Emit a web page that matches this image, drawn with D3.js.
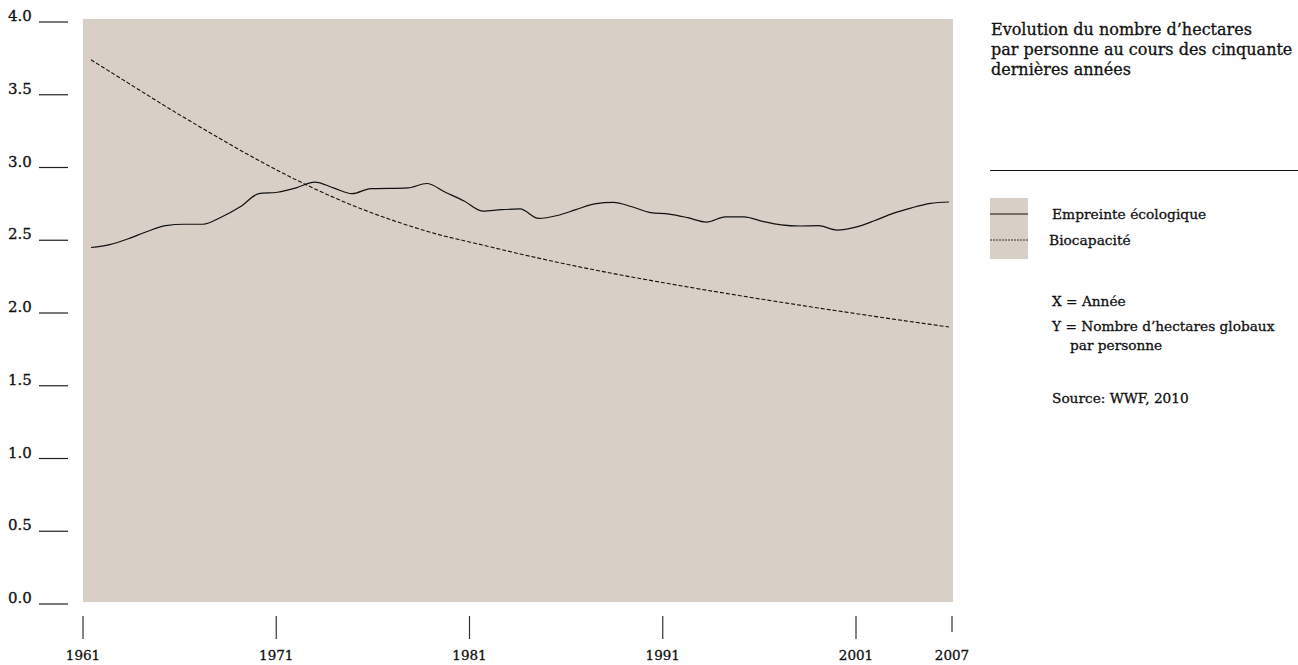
<!DOCTYPE html>
<html><head><meta charset="utf-8">
<script src="https://cdn.jsdelivr.net/npm/d3@7"></script>
<style>body{margin:0;background:#fff;} svg{display:block;} text{font-family:"DejaVu Serif",serif;fill:#111;stroke:#111;stroke-width:0.3px;}</style>
</head><body><svg id="c" width="1298" height="665"></svg>
<script>
const years = d3.range(1961, 2008);
const footprint = [2.45,2.47,2.51,2.56,2.60,2.61,2.61,2.66,2.73,2.82,2.83,2.86,2.90,2.86,2.82,2.855,2.856,2.86,2.89,2.83,2.77,2.70,2.71,2.715,2.65,2.67,2.71,2.75,2.76,2.73,2.69,2.68,2.655,2.625,2.66,2.66,2.63,2.606,2.598,2.60,2.57,2.59,2.634,2.685,2.723,2.753,2.763];
const biocapacity = [3.74,3.66,3.58,3.50,3.42,3.343,3.267,3.192,3.119,3.048,2.980,2.915,2.853,2.795,2.741,2.691,2.645,2.602,2.562,2.527,2.497,2.467,2.436,2.406,2.377,2.349,2.322,2.296,2.271,2.247,2.224,2.201,2.179,2.157,2.136,2.115,2.094,2.074,2.054,2.034,2.015,1.996,1.977,1.958,1.940,1.922,1.904];
const xTickYears = [1961, 1971, 1981, 1991, 2001, 2007];
const yTickValues = [0, 0.5, 1, 1.5, 2, 2.5, 3, 3.5, 4];
const titleLines = ["Evolution du nombre d’hectares", "par personne au cours des cinquante", "dernières années"];
const seriesNames = ["Empreinte écologique", "Biocapacité"];

const svg = d3.select("#c");
const bg = "#d8cfc6";

svg.append("rect").attr("x", 83).attr("y", 19).attr("width", 870).attr("height", 583).attr("fill", bg);

const x = d3.scaleLinear().domain([1961, 2007]).range([91, 949]);
const xAxisScale = d3.scaleLinear().domain([1961, 2001, 2007]).range([83, 856, 952]);
const y = d3.scaleLinear().domain([0, 4]).range([604, 22]);

// y ticks
const yt = svg.append("g");
yTickValues.forEach(v => {
  yt.append("line").attr("x1", 39).attr("x2", 68).attr("y1", y(v)).attr("y2", y(v))
    .attr("stroke", "#222").attr("stroke-width", 1.2);
  yt.append("text").attr("x", 8).attr("y", y(v) - 1).attr("font-size", 15).text(d3.format(".1f")(v));
});

// x ticks
const xt = svg.append("g");
xTickYears.forEach(yr => {
  xt.append("line").attr("x1", xAxisScale(yr)).attr("x2", xAxisScale(yr)).attr("y1", 616).attr("y2", yr === 2007 ? 632 : 639)
    .attr("stroke", "#333").attr("stroke-width", 1.2);
  xt.append("text").attr("x", xAxisScale(yr)).attr("y", 660).attr("text-anchor", "middle").attr("font-size", 13.5).text(yr);
});

const line = d3.line().x((d, i) => x(years[i])).y(d => y(d)).curve(d3.curveMonotoneX);
svg.append("path").attr("d", line(biocapacity)).attr("fill", "none").attr("stroke", "#111")
  .attr("stroke-width", 1.1).attr("stroke-dasharray", "4,2");
svg.append("path").attr("d", line(footprint)).attr("fill", "none").attr("stroke", "#111").attr("stroke-width", 1.2);

// title
const t = svg.append("text").attr("x", 991).attr("y", 35).attr("font-size", 16);
titleLines.forEach((s, i) => t.append("tspan").attr("x", 991).attr("dy", i ? 20 : 0).text(s));

svg.append("line").attr("x1", 990).attr("x2", 1298).attr("y1", 170.5).attr("y2", 170.5).attr("stroke", "#111").attr("stroke-width", 1.2);

// legend
svg.append("rect").attr("x", 990).attr("y", 198).attr("width", 38).attr("height", 61).attr("fill", bg);
svg.append("line").attr("x1", 990).attr("x2", 1028).attr("y1", 214).attr("y2", 214).attr("stroke", "#111").attr("stroke-width", 1.2);
svg.append("line").attr("x1", 990).attr("x2", 1028).attr("y1", 240).attr("y2", 240).attr("stroke", "#333").attr("stroke-width", 1).attr("stroke-dasharray", "2,1");
svg.append("text").attr("x", 1052).attr("y", 219).attr("font-size", 13.8).text(seriesNames[0]);
svg.append("text").attr("x", 1049).attr("y", 245).attr("font-size", 13.8).text(seriesNames[1]);

svg.append("text").attr("x", 1052).attr("y", 306).attr("font-size", 13.7).text("X = Année");
svg.append("text").attr("x", 1052).attr("y", 331).attr("font-size", 13.7).text("Y = Nombre d’hectares globaux");
svg.append("text").attr("x", 1070).attr("y", 350).attr("font-size", 13.7).text("par personne");
svg.append("text").attr("x", 1052).attr("y", 403).attr("font-size", 13.7).text("Source: WWF, 2010");
</script></body></html>
